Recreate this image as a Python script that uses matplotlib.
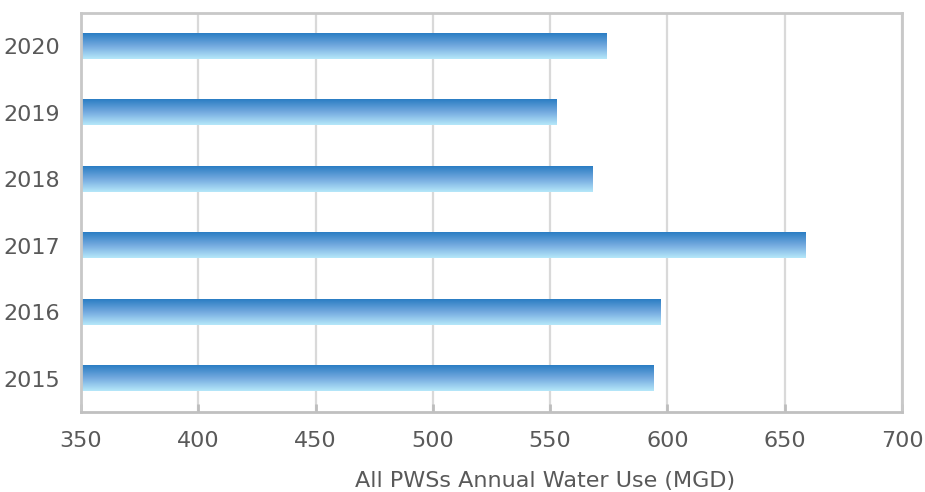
import matplotlib
matplotlib.use("Agg")
import matplotlib.pyplot as plt
import numpy as np
from matplotlib.colors import LinearSegmentedColormap

years = ["2015", "2016", "2017", "2018", "2019", "2020"]
water_use = [594, 597, 659, 568, 552.5, 574]
x_ticks = [350, 400, 450, 500, 550, 600, 650, 700]
x_label = "All PWSs Annual Water Use (MGD)"

plt.rcParams['font.family'] = ['DejaVu Sans']
text_color = "#595959"

fig = plt.figure(figsize=(9.25, 4.92), dpi=100)
ax = fig.add_axes([81/925, 80/492, 821/925, 399/492])

cmap = LinearSegmentedColormap.from_list("bar", ["#2A7DC3", "#74AADF", "#B6E8F9"])
grad = np.linspace(0, 1, 256).reshape(-1, 1)

h = 0.376
ypos = np.arange(len(years))
bars = ax.barh(ypos, [v - x_ticks[0] for v in water_use], left=x_ticks[0], height=h,
               color="none", edgecolor="none", zorder=3)
for b in bars:
    x0, y0 = b.get_x(), b.get_y()
    w, hh = b.get_width(), b.get_height()
    ax.imshow(grad, cmap=cmap, aspect="auto", extent=(x0, x0 + w, y0, y0 + hh),
              origin="upper", zorder=3, interpolation="bilinear")

ax.set_xlim(x_ticks[0], x_ticks[-1])
ax.set_ylim(-0.5, len(years) - 0.5)
ax.set_xticks(x_ticks)
ax.set_yticks(ypos)
ax.set_yticklabels(years)

ax.grid(axis="x", color="#d9d9d9", linewidth=1.6, zorder=0)
ax.set_axisbelow(True)
for s in ax.spines.values():
    s.set_color("#c8c8c8")
    s.set_linewidth(2)
    s.set_zorder(4)
ax.spines["bottom"].set_color("#c0c0c0")

ax.tick_params(axis="x", direction="in", length=6, width=2, color="#bdbdbd",
               labelsize=16, labelcolor=text_color, pad=14)
ax.tick_params(axis="y", length=0, labelsize=16, labelcolor=text_color, pad=15)

ax.set_xlabel(x_label, fontsize=16, color=text_color)
ax.xaxis.set_label_coords((545 - 81) / 821, -0.148)

fig.savefig("out.png", dpi=100)
